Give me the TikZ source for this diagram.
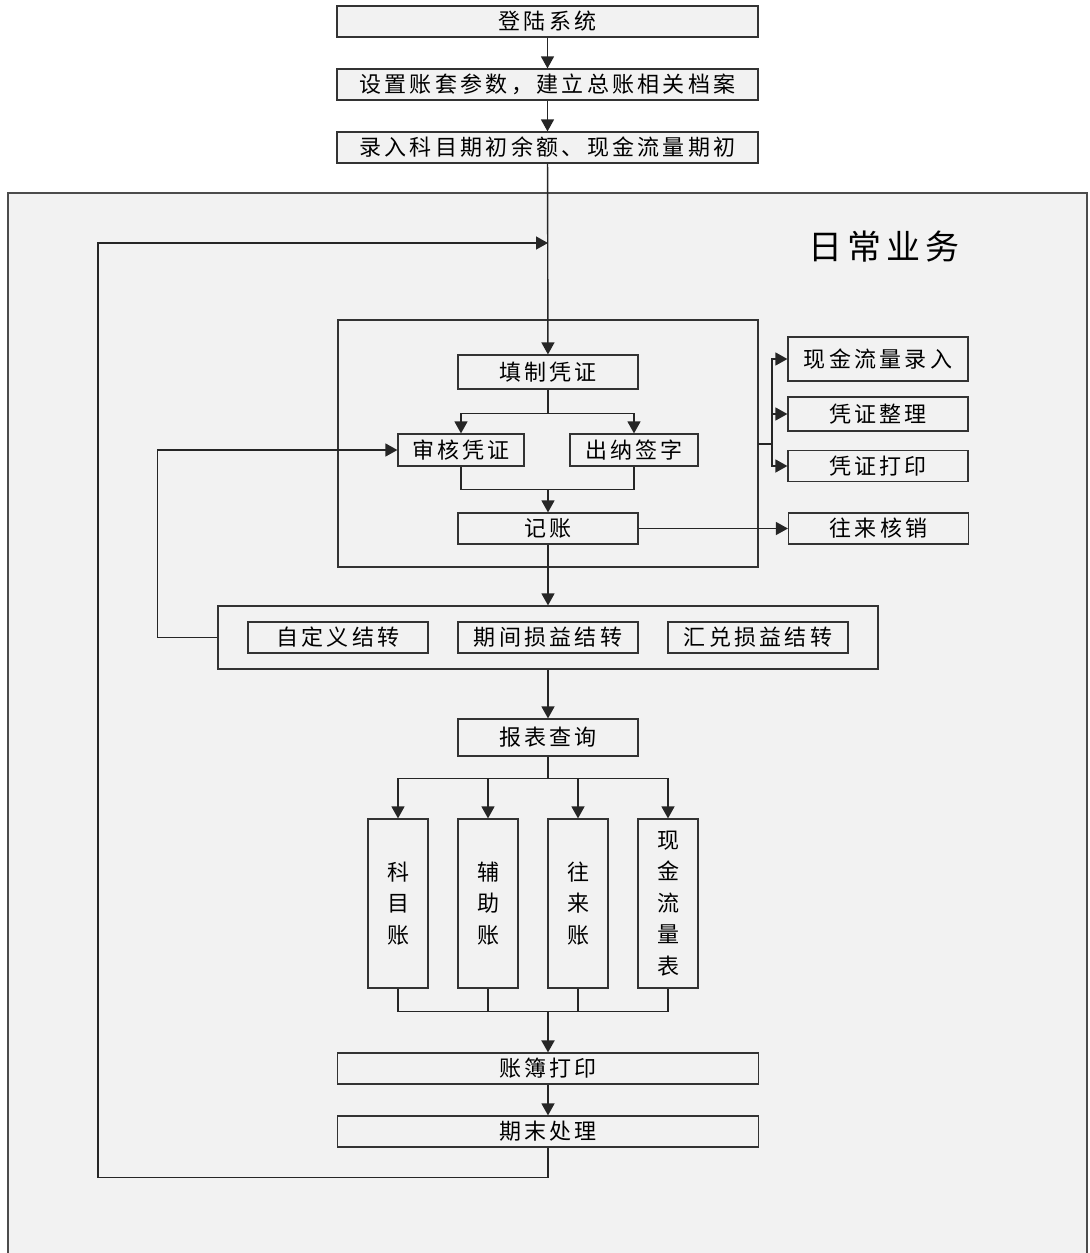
\documentclass[tikz,border=0pt]{standalone}
\usepackage{fontspec}
\setmainfont{Noto Sans CJK SC}[LetterSpace=15]
\usetikzlibrary{arrows.meta}

\begin{document}
\begin{tikzpicture}[x=0.5pt,y=-0.5pt,
  every node/.style={font=\fontsize{11}{15.75}\selectfont},
  box/.style={draw=black!80, fill=black!5, line width=0.6pt, inner sep=0pt},
  wide/.style={box, minimum width=210.5pt, minimum height=15.5pt},
  mid/.style={box, minimum width=90pt, minimum height=16pt},
  tall/.style={box, minimum width=30pt, minimum height=84.5pt, align=center},
  link/.style={black!85, line width=0.7pt},
  arr/.style={link, -{Triangle[length=6pt, width=6.5pt]}}]
\useasboundingbox (0,0) rectangle (1089,1253);
\filldraw[fill=black!5, draw=black!70, line width=0.7pt] (8,193) rectangle (1087,1275);
\node[font=\fontsize{17}{20}\selectfont] (daily) at (884,247) {日常业务};
\draw[black!80, line width=0.6pt] (338,320) rectangle (758,567);

% setup
\node[wide] (login) at (547.5,21.5) {登陆系统};
\node[wide] (setup) at (547.5,84.5) {设置账套参数，建立总账相关档案};
\node[wide] (init) at (547.5,147.5) {录入科目期初余额、现金流量期初};

% vouchers
\node[mid, minimum height=17pt] (fill) at (548,372) {填制凭证};
\node[box, minimum width=63pt, minimum height=16pt] (audit) at (461,450) {审核凭证};
\node[box, minimum width=64pt, minimum height=16pt] (cashier) at (634,450) {出纳签字};
\node[mid, minimum height=15.5pt] (post) at (548,528.5) {记账};
\node[mid, minimum height=22pt] (cashflow) at (878,359) {现金流量录入};
\node[mid, minimum height=17pt] (tidy) at (878,414) {凭证整理};
\node[mid, minimum height=15.5pt] (print) at (878,466) {凭证打印};
\node[mid, minimum height=15.5pt] (verify) at (878.5,528.5) {往来核销};

% carry forward
\node[box, minimum width=330pt, minimum height=31.5pt] (carry) at (548,637.5) {};
\node[mid, minimum height=15.5pt] (custom) at (338,637.5) {自定义结转};
\node[mid, minimum height=15.5pt] (profit) at (548,637.5) {期间损益结转};
\node[mid, minimum height=15.5pt] (exch) at (758,637.5) {汇兑损益结转};

% reports
\node[mid, minimum height=18.5pt] (query) at (548,737.5) {报表查询};
\node[tall] (subj) at (398,903.5) {科\\目\\账};
\node[tall] (aux) at (488,903.5) {辅\\助\\账};
\node[tall] (trade) at (578,903.5) {往\\来\\账};
\node[tall] (flow) at (668,903.5) {现\\金\\流\\量\\表};
\node[wide] (books) at (548,1068.5) {账簿打印};
\node[wide] (close) at (548,1131.5) {期末处理};

\coordinate (back) at (548,243);
\coordinate (br) at (772,444);

\draw[arr] (login) -- (setup);
\draw[arr] (setup) -- (init);
\draw[arr] (init) -- (fill);
\draw[arr] (fill.south) -- ++(0,24) -| (audit);
\draw[arr] (fill.south) -- ++(0,24) -| (cashier);
\draw[link] (audit.south) -- ++(0,23) coordinate (m1) -| (cashier.south);
\draw[arr] (m1 -| post) -- (post);
\draw[arr] (post) -- (verify);
\draw[link] (758,444) -- (br);
\foreach \n in {cashflow,tidy,print}
  \draw[arr] (br) |- (\n);
\draw[arr] (post) -- (carry);
\draw[arr] (carry.west) -- ++(-60,0) |- (audit);
\draw[arr] (carry) -- (query);
\draw[link] (query.south) -- ++(0,22) coordinate (fan);
\foreach \n in {subj,aux,trade,flow}
  \draw[arr] (fan) -| (\n);
\draw[link] (subj.south) -- ++(0,23) coordinate (m2) -| (flow.south);
\foreach \n in {aux,trade}
  \draw[link] (\n.south) -- (\n.south |- m2);
\draw[arr, line width=1pt] (m2 -| books) -- (books);
\draw[arr] (books) -- (close);
\draw[arr] (close.south) -- ++(0,30) -| (98,243) -- (back);
\end{tikzpicture}
\end{document}
